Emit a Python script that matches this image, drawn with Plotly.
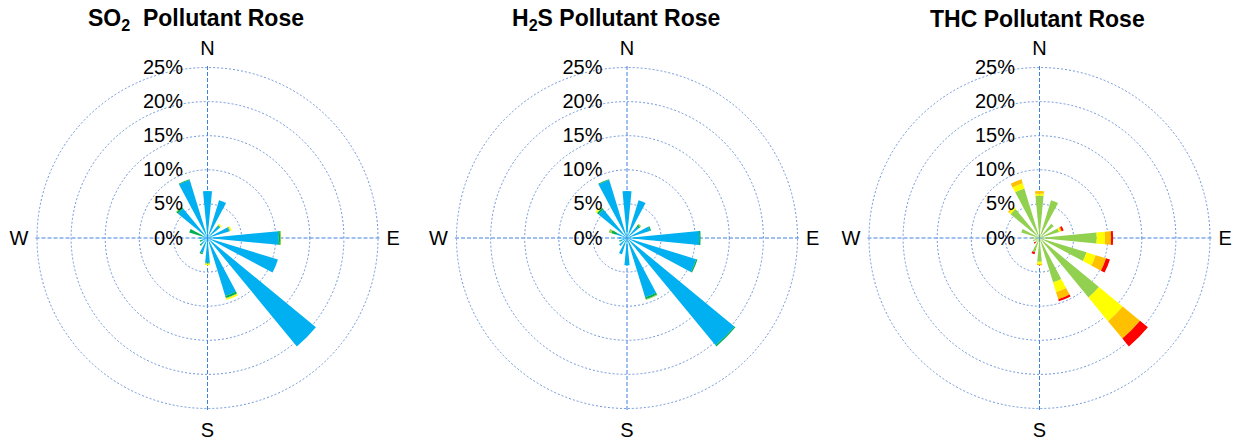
import plotly.graph_objects as go

directions = ["N", "NNE", "NE", "ENE", "E", "ESE", "SE", "SSE",
              "S", "SSW", "SW", "WSW", "W", "WNW", "NW", "NNW"]
angles = [0, 22.5, 45, 67.5, 90, 112.5, 135, 157.5,
          180, 202.5, 225, 247.5, 270, 292.5, 315, 337.5]

radial_ticks = [0, 5, 10, 15, 20, 25]
radial_labels = ["0%", "5%", "10%", "15%", "20%", "25%"]
compass_ticks = [0, 90, 180, 270]
compass_labels = ["N", "E", "S", "W"]

# SO2 frequency (%) per concentration class
so2_blue = [6.9, 5.8, 2.3, 3.3, 10.4, 10.8, 20.6, 8.9, 3.6, 2.3, 1.3, 0.9, 1.2, 0.8, 5.6, 8.9]
so2_green = [0, 0, 0.1, 0.1, 0.25, 0, 0, 0.3, 0.1, 0.2, 0.2, 0.3, 0, 2.0, 0.3, 0.1]
so2_lgreen = [0, 0, 0.1, 0.1, 0.15, 0, 0, 0.1, 0.1, 0, 0, 0, 0, 0, 0.1, 0]
so2_yellow = [0, 0, 0.2, 0.2, 0, 0, 0, 0.2, 0.2, 0, 0, 0, 0, 0, 0, 0]

# H2S frequency (%) per concentration class
h2s_blue = [6.9, 5.8, 2.2, 3.5, 10.6, 10.6, 20.4, 9.1, 4.0, 2.5, 1.5, 1.0, 1.2, 1.6, 5.4, 8.9]
h2s_green = [0, 0, 0.3, 0.2, 0.2, 0.2, 0.2, 0.3, 0, 0, 0, 0.2, 0, 0.8, 0.3, 0.1]
h2s_lgreen = [0, 0, 0.2, 0, 0, 0, 0, 0.1, 0, 0, 0, 0, 0, 0.4, 0.1, 0]
h2s_yellow = [0, 0, 0, 0, 0, 0, 0, 0, 0, 0, 0, 0, 0, 0, 0.2, 0]

# THC frequency (%) per concentration class
thc_lgreen = [6.2, 5.8, 2.7, 3.0, 8.4, 7.2, 11.3, 6.8, 3.5, 2.2, 0.8, 1.0, 1.2, 2.8, 5.5, 7.6]
thc_yellow = [0.3, 0, 0, 0.2, 1.2, 1.4, 4.5, 1.5, 0.3, 0, 0, 0, 0, 0, 0.3, 0.8]
thc_orange = [0.4, 0, 0, 0.2, 0.9, 1.6, 3.3, 1.1, 0.2, 0, 0, 0, 0, 0, 0.2, 0.6]
thc_red = [0, 0, 0, 0.3, 0.3, 0.6, 1.5, 0.3, 0, 0.3, 0.3, 0, 0, 0, 0, 0]

titles = ["<b>SO<sub>2</sub>  Pollutant Rose</b>",
          "<b>H<sub>2</sub>S Pollutant Rose</b>",
          "<b>THC Pollutant Rose</b>"]

BLUE = "#00B0F0"
GREEN = "#00B050"
LGREEN = "#92D050"
YELLOW = "#FFFF00"
ORANGE = "#FFC000"
RED = "#FF0000"
CIRCLE = "#6F96DA"
SPOKE = "#3F80E0"

W, H = 1234, 440
centers_x = [207.5, 627.0, 1039.5]
center_y = 238.0
RMAX = 25.3
radius = 170.5 * RMAX / 25

fig = go.Figure()

pollutants = [
    [(so2_blue, BLUE), (so2_green, GREEN), (so2_lgreen, LGREEN), (so2_yellow, YELLOW)],
    [(h2s_blue, BLUE), (h2s_green, GREEN), (h2s_lgreen, LGREEN), (h2s_yellow, YELLOW)],
    [(thc_lgreen, LGREEN), (thc_yellow, YELLOW), (thc_orange, ORANGE), (thc_red, RED)],
]

for i, classes in enumerate(pollutants):
    sub = "polar" if i == 0 else f"polar{i+1}"
    for vals, col in classes:
        fig.add_trace(go.Barpolar(
            r=vals, theta=angles, width=[11] * len(angles),
            marker=dict(color=col, line=dict(width=0)),
            subplot=sub, showlegend=False, hoverinfo="skip"))

layout = dict(width=W, height=H, margin=dict(l=0, r=0, t=0, b=0),
              paper_bgcolor="white", plot_bgcolor="white",
              font=dict(family="Liberation Sans, Arial, sans-serif", size=20, color="black"),
              showlegend=False)

for i, cx in enumerate(centers_x):
    key = "polar" if i == 0 else f"polar{i+1}"
    layout[key] = dict(
        domain=dict(x=[(cx - radius) / W, (cx + radius) / W],
                    y=[(H - center_y - radius) / H, (H - center_y + radius) / H]),
        bgcolor="white",
        barmode="stack",
        hole=0,
        radialaxis=dict(range=[0, RMAX], tickvals=radial_ticks, ticktext=radial_labels,
                        angle=90, tickangle=90, side="counterclockwise",
                        showline=False, ticks="outside", ticklen=17,
                        tickcolor="rgba(0,0,0,0)", gridcolor=CIRCLE, gridwidth=1,
                        griddash="2px,2px", tickfont=dict(size=20, color="black")),
        angularaxis=dict(rotation=90, direction="clockwise", tickmode="array",
                         tickvals=compass_ticks, ticktext=compass_labels,
                         showline=False, ticks="outside", ticklen=2,
                         tickcolor="rgba(0,0,0,0)", gridcolor=SPOKE, gridwidth=1,
                         griddash="4px,2px", tickfont=dict(size=20, color="black")),
    )

title_x = [196, 616, 1037]
layout["annotations"] = [
    dict(text=t, x=tx / W, y=1 - 19.5 / H, xref="paper", yref="paper",
         xanchor="center", yanchor="middle", showarrow=False,
         font=dict(size=23, color="black", family="Liberation Sans, Arial, sans-serif"))
    for t, tx in zip(titles, title_x)
]

fig.update_layout(**layout)
fig.write_html("out.html",
               config={"displayModeBar": False, "staticPlot": True},
               post_script="document.body.style.margin='0px';document.body.style.overflow='hidden';")
